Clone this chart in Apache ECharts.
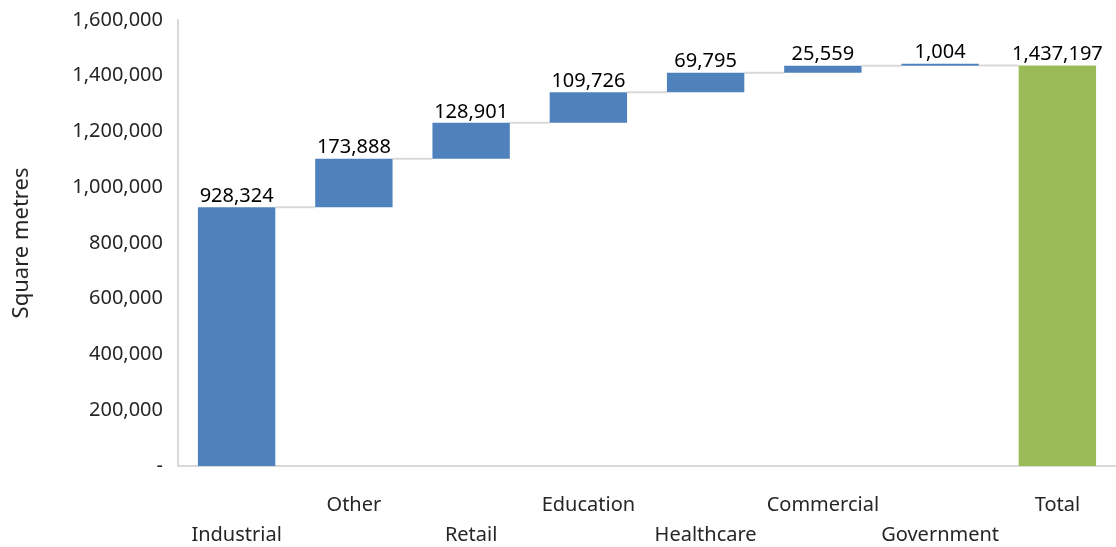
<!DOCTYPE html>
<html>
<head>
<meta charset="utf-8">
<script src="https://cdn.jsdelivr.net/npm/echarts@6/dist/echarts.min.js"></script>
<style>
  html, body { margin: 0; padding: 0; background: #fff; }
  #chart { width: 1116px; height: 547px; }
</style>
</head>
<body>
<div id="chart"></div>
<script>
// categories and step values (sq m)
var categories = ['Industrial', 'Other', 'Retail', 'Education', 'Healthcare', 'Commercial', 'Government', 'Total'];
var steps = [928324, 173888, 128901, 109726, 69795, 25559, 1004];
var total = 1437197;
var yTicks = [0, 200000, 400000, 600000, 800000, 1000000, 1200000, 1400000, 1600000];

// build base (invisible) and visible parts of the waterfall
var base = [];
var visible = [];
var tops = [];
var run = 0;
steps.forEach(function (v) {
    base.push(run);
    visible.push({ value: v, itemStyle: { color: '#4f81bd' } });
    run += v;
    tops.push(run);
});
base.push(0);
visible.push({ value: total, itemStyle: { color: '#9bbb59' } });

var fmt = function (v) { return v.toLocaleString('en-US'); };
var font = 'Noto Sans';
var txt = '#262626';

var chart = echarts.init(document.getElementById('chart'));

var option = {
    animation: false,
    grid: { left: 178, right: 0, top: 20, bottom: 81, outerBoundsMode: 'none', containLabel: false },
    xAxis: {
        type: 'category',
        data: categories,
        axisLine: { lineStyle: { color: '#d9d9d9', width: 2 } },
        axisTick: { show: false },
        axisLabel: {
            margin: 29,
            interval: 0,
            color: txt,
            fontFamily: font,
            fontSize: 20,
            formatter: function (v, i) {
                return i % 2 === 0 ? '{low|' + v + '}' : '{high|' + v + '}';
            },
            rich: {
                high: { fontFamily: font, fontSize: 20, color: txt },
                low: { fontFamily: font, fontSize: 20, color: txt, padding: [30, 0, 0, 0] }
            }
        }
    },
    yAxis: {
        type: 'value',
        min: yTicks[0],
        max: yTicks[yTicks.length - 1],
        interval: yTicks[1] - yTicks[0],
        name: 'Square metres',
        nameLocation: 'middle',
        nameGap: 145,
        nameTextStyle: { fontFamily: font, fontSize: 22, color: txt },
        axisLine: { show: true, lineStyle: { color: '#d9d9d9', width: 2 } },
        axisTick: { show: false },
        splitLine: { show: false },
        axisLabel: {
            margin: 15,
            color: txt,
            fontFamily: font,
            fontSize: 20,
            formatter: function (v) { return v === 0 ? '-' : fmt(v); }
        }
    },
    series: [
        {
            type: 'bar',
            stack: 'w',
            data: base,
            itemStyle: { color: 'transparent' },
            barWidth: '66%',
            silent: true
        },
        {
            type: 'bar',
            stack: 'w',
            data: visible,
            barWidth: '66%',
            barMinHeight: 2,
            label: {
                show: true,
                position: 'top',
                distance: 1,
                fontFamily: font,
                fontSize: 20,
                color: '#000',
                formatter: function (p) { return fmt(p.value); }
            }
        },
        {
            // connector lines between bars
            type: 'custom',
            silent: true,
            data: tops.map(function (t, i) { return [i, t]; }),
            renderItem: function (params, api) {
                var i = api.value(0);
                var a = api.coord([i, api.value(1)]);
                var b = api.coord([i + 1, api.value(1)]);
                var bw = api.size([1, 0])[0] * 0.33;
                return {
                    type: 'line',
                    shape: { x1: a[0] + bw, y1: a[1], x2: b[0] - bw, y2: b[1] },
                    style: { stroke: '#d9d9d9', lineWidth: 2 }
                };
            }
        }
    ]
};

chart.setOption(option);
</script>
</body>
</html>
